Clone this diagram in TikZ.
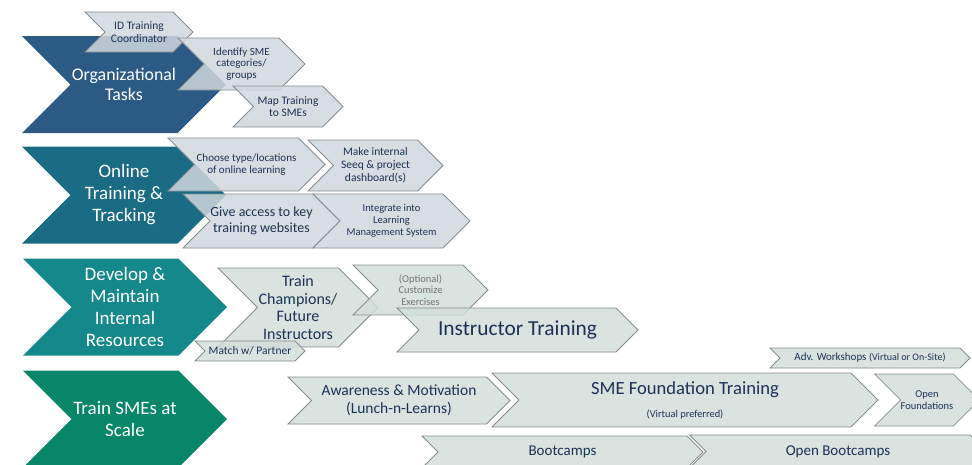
\documentclass[tikz,border=0pt]{standalone}
\usepackage{fontspec}
\setmainfont{Carlito}
\usepackage{tikz}
\usetikzlibrary{shapes.symbols}
\definecolor{orgblue}{RGB}{43,90,133}
\definecolor{onlineblue}{RGB}{26,108,133}
\definecolor{devteal}{RGB}{20,136,138}
\definecolor{smegreen}{RGB}{7,135,104}
\definecolor{taskfill}{RGB}{208,216,222}
\definecolor{stagefill}{RGB}{210,222,218}
\definecolor{taskborder}{RGB}{135,140,145}
\definecolor{tasktext}{RGB}{28,50,84}
\definecolor{optgray}{RGB}{118,118,118}
\newcommand\fsz[2]{\fontsize{#1}{#2}\selectfont}
\tikzstyle{arrowshape} = [signal, signal to=east, signal from=west, signal pointer angle=90, inner sep=0pt, align=center]
\tikzstyle{phase} = [arrowshape, text=white, minimum width=204pt, minimum height=97pt, font=\fsz{19}{22}]
\tikzstyle{task} = [arrowshape, draw=taskborder, line width=0.8pt, fill=taskfill, fill opacity=0.85, text opacity=1, text=tasktext]
\tikzstyle{stage} = [task, fill=stagefill]

\begin{document}
\begin{tikzpicture}[x=1pt, y=-1pt]
\useasboundingbox (0,0) rectangle (972,464);
\clip (0,0) rectangle (972,464);

% the four phases
\node[phase, fill=orgblue, font=\fsz{17.8}{20.5}] (org) at (124,84.5) {Organizational\\Tasks};
\node[phase, fill=onlineblue] (online) at (124,195) {Online\\Training \&\\Tracking};
\node[phase, fill=devteal] (develop) at (125,307) {Develop \&\\Maintain\\Internal\\Resources};
\node[phase, fill=smegreen] (trainsme) at (125,419) {Train SMEs at\\Scale};

% organizational tasks
\node[task, minimum width=108pt, minimum height=40pt, font=\fsz{11.5}{13}] (idcoord) at (139,32) {ID Training\\Coordinator};
\node[task, minimum width=127pt, minimum height=52pt, font=\fsz{11}{11.8}] (identify) at (241.5,64) {Identify SME\\categories/\\groups};
\node[task, minimum width=110pt, minimum height=41pt, font=\fsz{11.5}{12.5}] (maptrain) at (288,106.5) {Map Training\\to SMEs};

% online training and tracking
\node[task, minimum width=157pt, minimum height=53pt, font=\fsz{11}{12.5}] (choose) at (246.5,164.5) {Choose type/locations\\of online learning};
\node[task, minimum width=135pt, minimum height=51pt, font=\fsz{11.5}{13}] (dashboard) at (375.5,165.5) {Make internal\\Seeq \& project\\dashboard(s)};
\node[task, minimum width=157pt, minimum height=54pt, font=\fsz{14}{15.5}] (access) at (261.5,221) {Give access to key\\training websites};
\node[task, minimum width=157pt, minimum height=54pt, font=\fsz{10.5}{12}] (lms) at (391.5,221) {Integrate into\\Learning\\Management System};

% internal resources
\node[stage, minimum width=160pt, minimum height=79pt, font=\fsz{16}{17.8}] (champions) at (298,307.5) {Train\\Champions/\\Future\\Instructors};
\node[stage, minimum width=110pt, minimum height=20pt, font=\fsz{11.5}{12}] (partner) at (250,351) {Match w/ Partner};
\node[stage, minimum width=135pt, minimum height=50pt, font=\fsz{10.5}{11.5}, text=optgray] (optional) at (420.5,290) {(Optional)\\Customize\\Exercises};
\node[stage, minimum width=241pt, minimum height=44pt, font=\fsz{21.4}{24}] (instructor) at (517.5,330) {Instructor Training};

% training SMEs at scale
\node[stage, minimum width=200pt, minimum height=20pt, font=\fsz{11}{12}] (advanced) at (870,358) {Adv. Workshops {\fsz{10}{11}(Virtual or On-Site)}};
\node[stage, minimum width=222pt, minimum height=47pt, font=\fsz{15.5}{18}] (awareness) at (399,400.5) {Awareness \& Motivation\\(Lunch-n-Learns)};
\node[stage, minimum width=386pt, minimum height=54pt, font=\fsz{18.6}{23}] (foundation) at (685,400) {SME Foundation Training\\{\fsz{10.4}{11}(Virtual preferred)}};
\node[stage, minimum width=94pt, minimum height=52pt, font=\fsz{10.5}{12}] (openfound) at (927,400) {Open\\Foundations};
\node[stage, minimum width=281pt, minimum height=32pt, font=\fsz{15}{16}] (bootcamps) at (562.5,452) {Bootcamps};
\node[stage, minimum width=297pt, minimum height=33pt, font=\fsz{15}{16}] (openboot) at (838,451.5) {Open Bootcamps};
\end{tikzpicture}
\end{document}
